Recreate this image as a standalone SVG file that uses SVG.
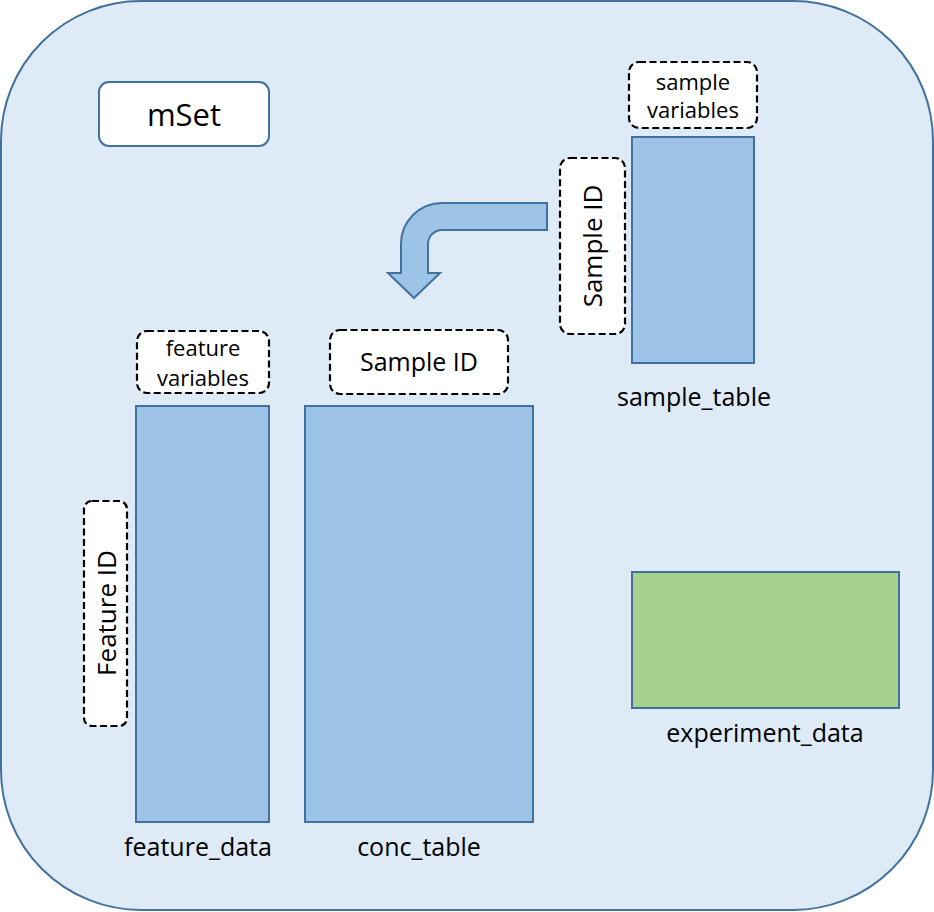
<svg xmlns="http://www.w3.org/2000/svg" width="934" height="912" viewBox="0 0 934 912">
<style>
.frame{fill:#DEEAF6;stroke:#41719C;stroke-width:2}
.tbl{fill:#9DC3E6;stroke:#41719C;stroke-width:2}
.exp{fill:#A9D18E;stroke:#41719C;stroke-width:2}
.dash{fill:#FFFFFF;stroke:#000000;stroke-width:2.2;stroke-dasharray:7 3.5}
.solid{fill:#FFFFFF;stroke:#41719C;stroke-width:2}
text{font-family:"Open Sans","Liberation Sans",sans-serif;fill:#000;text-anchor:middle;dominant-baseline:central}
.lbl{font-size:25px}
.vert{font-size:26px}
.sm{font-size:22px}
.big{font-size:31px}
</style>
<g id="mset-container">
<rect class="frame" x="1" y="1" width="932" height="909" rx="140" ry="140"/>
</g>
<g id="mset-title">
<rect class="solid" x="99" y="82" width="170" height="64" rx="10"/>
<text class="big" x="184" y="114">mSet</text>
</g>
<g id="sample-variables">
<rect class="dash" x="629" y="62" width="128" height="66" rx="10"/>
<text class="sm" x="693" y="81">sample</text>
<text class="sm" x="693" y="109">variables</text>
</g>
<g id="sample-table">
<rect class="tbl" x="632" y="137" width="122" height="226"/>
<text class="lbl" x="694" y="396">sample_table</text>
</g>
<g id="sample-id-side">
<rect class="dash" x="560" y="158" width="65" height="176" rx="10"/>
<text class="vert" x="0" y="0" transform="translate(592 246) rotate(-90)">Sample ID</text>
</g>
<g id="connectors">
<path d="M547,203 L442,203 A41,41 0 0 0 401,244 L401,273 L388,273 L414,298 L440,273 L428,273 L428,244 A14,14 0 0 1 442,230 L547,230 Z" fill="#9DC3E6" stroke="#41719C" stroke-width="2" stroke-linejoin="miter"/>
</g>
<g id="feature-variables">
<rect class="dash" x="137" y="331" width="132" height="62" rx="10"/>
<text class="sm" x="203" y="347">feature</text>
<text class="sm" x="203" y="377">variables</text>
</g>
<g id="feature-data">
<rect class="tbl" x="136" y="406" width="133" height="416"/>
<text class="lbl" x="198" y="846">feature_data</text>
</g>
<g id="feature-id">
<rect class="dash" x="84" y="501" width="43" height="225" rx="8"/>
<text class="vert" x="0" y="0" transform="translate(106 613) rotate(-90)">Feature ID</text>
</g>
<g id="conc-sample-id">
<rect class="dash" x="330" y="330" width="178" height="64" rx="10"/>
<text class="lbl" x="419" y="361">Sample ID</text>
</g>
<g id="conc-table">
<rect class="tbl" x="305" y="406" width="228" height="416"/>
<text class="lbl" x="419" y="846">conc_table</text>
</g>
<g id="experiment-data">
<rect class="exp" x="632" y="572" width="267" height="136"/>
<text class="lbl" x="765" y="732">experiment_data</text>
</g>
</svg>
